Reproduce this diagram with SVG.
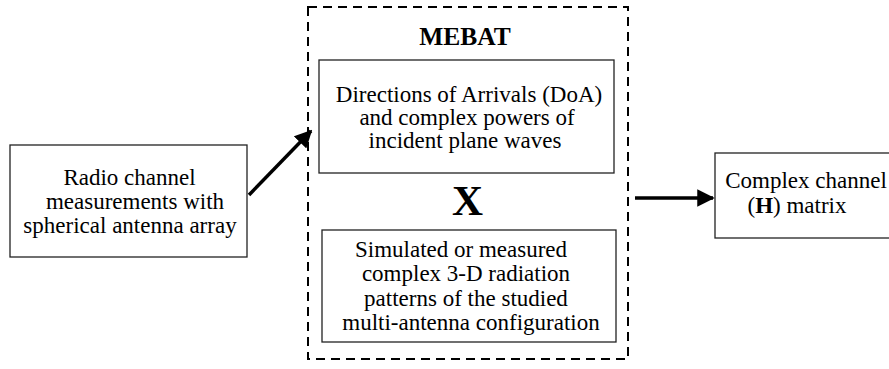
<svg xmlns="http://www.w3.org/2000/svg" width="889" height="369" viewBox="0 0 889 369">
<style>
.box{fill:#fff;stroke:#222;stroke-width:1.3}
.t{font-family:"Liberation Serif","Times New Roman",serif;font-size:23px;fill:#000;text-anchor:middle}
.b{font-weight:bold}
.dash{fill:none;stroke:#000;stroke-width:2;stroke-dasharray:9 6}
.conn{stroke:#000;stroke-width:3.5;fill:none}
</style>
<defs>
<marker id="ah" viewBox="0 0 10 10" refX="9" refY="5" markerWidth="5.2" markerHeight="5" markerUnits="strokeWidth" orient="auto">
<path d="M0,0 L10,5 L0,10 z" fill="#000"/>
</marker>
</defs>
<rect fill="#fff" x="0" y="0" width="889" height="369"/>
<g id="mebat">
<rect class="dash" x="308" y="7" width="320" height="352"/>
<text class="t b" x="465" y="45" style="font-size:25.5px">MEBAT</text>
<text class="t b" x="467.5" y="215" style="font-size:43px">X</text>
</g>
<g id="input">
<rect class="box" x="10" y="145" width="237" height="112"/>
<text class="t" x="129.5" y="185">Radio channel</text>
<text class="t" x="135" y="209">measurements with</text>
<text class="t" x="130" y="233">spherical antenna array</text>
</g>
<g id="doa">
<rect class="box" x="319" y="60" width="295" height="113"/>
<text class="t" x="469" y="102">Directions of Arrivals (DoA)</text>
<text class="t" x="467" y="125">and complex powers of</text>
<text class="t" x="465" y="148">incident plane waves</text>
</g>
<g id="patterns">
<rect class="box" x="322" y="230" width="294" height="112"/>
<text class="t" x="461" y="257">Simulated or measured</text>
<text class="t" x="466" y="281">complex 3-D radiation</text>
<text class="t" x="466" y="306">patterns of the studied</text>
<text class="t" x="471" y="330">multi-antenna configuration</text>
</g>
<g id="output">
<rect class="box" x="715" y="153" width="190" height="85"/>
<text class="t" x="806" y="188">Complex channel</text>
<text class="t" x="797" y="213">(<tspan class="b">H</tspan>) matrix</text>
</g>
<g id="connectors">
<line class="conn" x1="249" y1="195" x2="311" y2="131" marker-end="url(#ah)"/>
<line class="conn" x1="635" y1="198" x2="713" y2="198" marker-end="url(#ah)"/>
</g>
</svg>
